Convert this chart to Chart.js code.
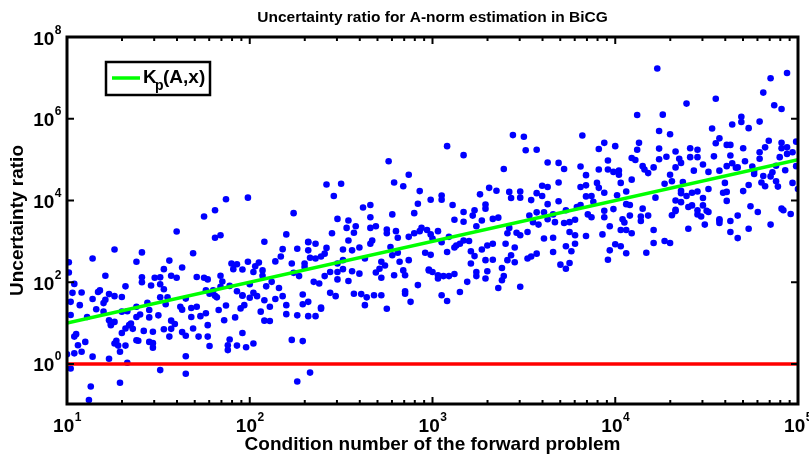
<!DOCTYPE html>
<html>
<head>
<meta charset="utf-8">
<script src="https://cdn.jsdelivr.net/npm/chart.js@4.4.0/dist/chart.umd.min.js"></script>
<style>
  html, body { margin: 0; padding: 0; background: #fff; }
  #wrap { width: 809px; height: 456px; }
</style>
</head>
<body>
<div id="wrap"><canvas id="chart" width="809" height="456"></canvas></div>
<script>
const ctx = document.getElementById('chart').getContext('2d')

//    ------- Data (as log10 of each coordinate) --------------------------------
// [log10(condition number), log10(uncertainty ratio)]
const ratioLog = [
  [1.75,3.61],[1.81,3.76],[2.24,3.69],[1.60,3.24],[1.81,3.09],[1.84,3.15],[2.08,2.99],[2.20,3.17],[2.32,2.99],
  [1.14,2.58],[1.26,2.80],[1.41,2.73],[1.38,2.50],[1.69,2.71],[1.56,2.53],[1.63,2.36],[1.53,2.32],
  [1.48,2.11],[1.51,2.12],[1.57,2.16],[1.60,2.11],[1.41,2.12],[1.41,2.00],[1.51,1.95],[1.46,1.92],[1.32,1.90],[1.21,2.16],[1.01,2.24],[1.04,1.96],
  [1.08,1.75],[1.18,1.80],[1.17,1.76],[1.23,1.71],[1.26,1.66],[1.30,1.64],[1.21,1.57],[1.20,1.49],[1.14,1.59],[1.16,1.34],[1.02,1.52],[1.02,1.20],[1.11,1.15],[1.07,1.44],[1.20,1.28],
  [1.23,1.07],[1.24,0.99],[1.26,1.03],[1.24,0.95],[1.30,1.28],[1.33,1.29],[1.38,1.40],[1.44,1.50],[1.45,1.32],[1.40,1.21],[1.38,1.15],[1.34,0.95],[1.35,0.99],[1.32,0.87],[1.30,0.76],[1.36,0.86],
  [1.45,1.14],[1.50,1.19],[1.54,1.46],[1.55,1.63],[1.51,1.63],[1.53,1.83],[1.62,1.40],[1.63,1.33],[1.68,1.37],[1.71,1.40],[1.65,1.60],[1.73,1.17],[1.76,1.24],[1.68,1.15],[1.57,1.06],[1.59,0.98],[1.57,0.86],[1.53,0.85],[1.47,0.79],[1.42,0.81],[1.38,0.58],[1.45,0.54],[1.47,0.51],[1.47,0.40],[1.56,0.67],[1.63,0.78],[1.65,0.69],[1.69,0.87],[1.72,0.67],[1.77,0.67],[1.78,0.44],[1.77,0.95],
  [1.83,1.32],[1.87,1.43],[1.86,1.07],[1.92,1.14],[1.97,1.44],[1.96,1.68],[1.95,1.36],[2.00,1.62],[2.02,1.74],[2.04,1.66],[2.08,1.56],[2.06,1.28],[2.08,1.06],[2.11,1.05],[2.11,1.40],[2.14,1.59],[2.18,1.66],[2.16,1.86],[2.09,1.90],[2.12,2.01],[2.20,1.44],[2.20,1.22],[2.26,1.19],[2.29,1.46],[2.29,1.70],[2.32,1.52],
  [2.23,0.59],[2.29,0.56],[1.89,0.60],[1.88,0.46],[1.88,0.34],[1.93,0.45],[1.96,0.76],[1.98,0.41],[2.02,0.50],
  [2.26,-0.43],[2.33,-0.21],[1.65,0.19],[1.65,-0.24],[1.51,-0.15],[1.29,-0.46],[1.13,-0.55],[1.12,-0.88],[1.02,-0.11],[1.23,0.13],[1.33,0.03],[1.14,0.18],
  [1.00,0.24],[1.04,0.26],[1.06,0.46],[1.08,0.30],[1.05,0.73],[1.04,0.67],[1.10,0.54],[1.27,0.57],[1.26,0.50],[1.28,0.45],[1.29,0.30],[1.32,0.45],[1.39,0.57],[1.03,1.74],
  [1.71,2.13],[1.75,2.11],[1.77,2.07],[1.84,2.16],[1.85,2.02],[1.84,1.89],[1.80,1.80],[1.81,1.67],[1.78,1.72],[1.82,1.63],[1.76,1.80],
  [1.90,2.46],[1.91,2.32],[1.93,2.44],[1.96,2.31],[1.99,2.50],[2.03,2.39],[2.02,2.25],[2.05,2.48],[2.07,2.29],[2.14,2.51],[2.17,2.63],[2.18,2.81],[2.23,2.46],[2.24,2.23],[2.26,2.82],[2.27,2.15],[2.30,2.37],[2.33,2.60],
  [1.89,1.91],[1.93,1.78],[1.96,1.67],[2.00,1.95],[2.07,2.16],[1.01,2.49],[1.87,4.03],[1.99,4.07],
  [2.42,4.39],[2.50,4.41],[2.46,4.11],[2.76,4.96],[2.79,4.44],[2.87,4.63],[2.84,4.35],[2.93,4.23],[2.92,3.92],[2.99,4.02],[3.05,4.12],[3.05,4.02],[3.08,5.33],[3.17,5.11],[3.11,3.89],[3.26,4.15],[3.29,3.90],[3.29,3.80],[3.39,4.77],[3.44,5.60],[3.50,5.56],[3.51,5.23],[3.57,5.24],[3.63,4.93],[3.31,4.31],[3.35,4.24],[3.42,4.21],[3.43,4.06],[3.48,4.22],[3.48,4.07],[3.54,4.01],[3.57,4.18],[3.60,4.36],[3.60,4.11],[3.63,4.33],[3.63,3.91],[2.62,3.83],[2.66,3.89],[3.61,3.71],[3.23,3.76],
  [2.48,3.55],[2.54,3.51],[2.53,3.33],[2.58,3.37],[2.57,3.21],[2.66,3.59],[2.66,3.33],[2.69,3.37],[2.78,3.66],[2.90,3.69],[2.75,3.29],[2.75,3.20],[2.80,3.25],[2.81,3.09],[2.87,3.11],[2.90,3.20],[2.94,3.33],[2.93,3.25],[2.97,3.28],[2.99,3.17],[3.03,3.25],[3.00,3.07],[3.05,2.98],[3.09,3.11],[3.12,3.53],[3.17,3.72],[3.17,3.48],[3.22,3.63],[3.24,3.37],[3.27,3.51],[3.33,3.55],[3.36,3.58],[3.42,3.33],[3.41,3.20],[3.46,3.21],[3.48,3.15],[3.52,3.23],[3.53,3.63],[3.55,3.47],[3.58,3.41],[3.57,3.71],[3.61,3.07],[3.63,3.54],
  [2.32,2.98],[2.36,2.94],[2.32,2.78],[2.30,2.46],[2.36,2.58],[2.39,2.63],[2.41,2.70],[2.42,2.84],[2.45,3.20],[2.48,2.46],[2.51,2.80],[2.51,2.54],[2.54,3.02],[2.56,2.78],[2.60,2.85],[2.63,2.58],[2.60,2.21],[2.56,2.27],[2.51,2.32],[2.48,2.25],[2.48,2.07],[2.44,2.25],[2.41,2.15],[2.54,2.03],[2.38,1.97],[2.35,2.01],[2.44,1.74],[2.47,1.66],[2.57,1.72],[2.61,1.71],[2.64,1.63],[2.63,1.44],[2.68,1.68],[2.72,1.68],[2.75,1.35],[2.66,2.94],[2.67,3.02],[2.69,2.24],[2.72,2.11],[2.71,2.33],[2.74,2.41],[2.72,2.50],[2.77,2.86],[2.78,2.66],[2.82,2.50],[2.81,2.72],[2.84,2.29],[2.79,2.17],[2.85,2.17],[2.87,2.54],[2.85,1.78],[2.85,1.72],[2.92,1.93],[2.88,1.52],
  [2.98,2.31],[2.98,2.29],[3.00,2.25],[3.03,2.17],[3.03,2.09],[3.06,2.15],[3.09,2.15],[3.12,2.20],[2.96,2.72],[2.99,2.67],[3.08,2.74],[3.12,2.85],[3.13,2.90],[3.15,2.94],[3.17,3.02],[3.20,3.01],[3.21,2.76],[3.23,2.64],[3.21,2.46],[3.27,2.80],[3.30,2.90],[3.33,2.94],[3.29,2.54],[3.33,2.55],[3.24,2.25],[3.24,2.15],[3.30,2.27],[3.29,2.09],[3.19,2.01],[3.05,1.68],[3.08,1.54],[3.15,1.76],[3.40,2.94],[3.43,2.66],[3.41,2.54],[3.45,2.49],[3.38,2.35],[3.39,2.15],[3.38,2.05],[3.36,1.86],[3.48,1.89],[3.45,2.85],[3.52,2.58],[3.54,2.63],[3.57,2.70],
  [2.32,1.17],[2.36,1.17],[2.39,1.38],[2.39,1.35],
  [4.23,7.23],[4.94,7.12],[4.85,6.99],[4.81,6.64],[4.87,6.33],[4.91,6.24],[4.55,6.49],[4.39,6.37],[4.12,6.09],[4.26,6.10],[3.82,5.59],[4.24,5.70],[4.30,5.62],[4.53,5.76],[4.64,5.86],[4.69,6.05],[4.69,5.92],[4.73,5.77],[4.79,5.93],[3.91,5.26],[3.94,5.41],[4.00,5.33],[4.13,5.41],[4.12,5.24],[4.24,5.27],[4.57,5.52],[4.55,5.40],[4.61,5.36],[4.63,5.36],[4.70,5.28],[4.84,5.46],[4.82,5.30],[4.91,5.41],[4.91,5.28],[4.94,5.30],[4.99,5.44],
  [3.69,4.92],[3.72,4.77],[3.81,4.83],[3.84,4.62],[3.81,4.33],[3.84,4.37],[3.69,4.44],[3.69,3.98],[3.91,4.76],[3.90,4.43],[3.91,4.31],[3.94,4.19],[3.96,4.98],[3.96,4.76],[3.99,4.70],[4.02,4.73],[4.02,4.63],[4.03,4.43],[4.09,5.04],[4.11,4.99],[4.09,4.51],[4.15,4.84],[4.16,4.76],[4.18,4.67],[4.21,4.81],[4.06,4.22],[4.01,4.13],[3.84,4.10],[3.87,4.11],[3.88,3.97],[3.81,3.89],[3.79,3.84],[3.99,3.79],[3.94,3.75],[4.08,3.89],[4.06,3.91],[4.15,3.80],
  [4.22,4.07],[4.27,4.41],[4.30,4.63],[4.31,4.47],[4.28,5.07],[4.33,5.20],[4.24,5.01],[4.35,5.02],[4.36,4.92],[4.33,4.81],[4.37,4.45],[4.36,4.24],[4.36,4.18],[4.39,4.11],[4.33,4.00],[4.36,3.96],[4.33,3.77],[4.40,3.84],[4.41,5.28],[4.45,5.24],[4.41,5.06],[4.45,5.06],[4.43,4.73],[4.48,4.88],[4.51,4.70],[4.42,4.19],[4.45,4.22],[4.48,4.06],[4.51,4.28],[4.54,5.08],[4.57,4.73],[4.60,4.43],[4.61,4.84],[4.59,4.19],[4.61,4.21],[4.61,3.99],[4.42,3.88],[4.45,3.76],[4.48,3.88],[4.50,3.75],
  [4.63,5.10],[4.64,4.91],[4.67,4.81],[4.66,4.80],[4.71,4.96],[4.75,4.83],[4.76,4.72],[4.76,4.65],[4.70,4.23],[4.73,4.38],[4.79,5.18],[4.79,5.02],[4.81,4.60],[4.80,4.44],[4.82,4.35],[4.85,4.59],[4.86,4.69],[4.88,4.85],[4.88,4.47],[4.89,4.34],[4.90,5.06],[4.94,5.14],[4.93,4.74],[4.97,5.18],[4.97,4.43],[4.99,4.84],[5.00,4.28],[4.74,3.86],[4.57,3.54],[4.91,3.80],[4.04,3.54],[3.73,3.76],
  [3.66,3.66],[3.66,3.09],[3.66,2.74],[3.67,3.47],[3.72,3.45],[3.75,3.47],[3.78,3.53],[3.75,3.23],[3.78,3.15],[3.78,2.94],[3.73,2.88],[3.76,2.76],[3.70,2.43],[3.73,2.33],[3.75,2.47],[3.84,3.13],[3.85,3.66],[3.87,3.59],[3.93,3.17],[3.94,3.59],[3.97,3.37],[3.97,2.78],[3.96,2.55],[4.00,2.93],[4.03,2.88],[4.06,2.71],[4.03,3.28],[4.05,3.46],[4.06,3.28],[4.09,3.20],[4.08,3.63],[4.14,3.61],[4.14,3.50],[4.18,3.63],[4.21,3.28],[4.21,2.96],[4.17,2.72],[4.27,3.01],[4.30,2.96],[4.31,3.64],[4.33,3.74],[4.40,3.31],[4.45,3.66],[4.47,3.61],[4.49,3.41],[4.51,3.72],[4.57,3.51],[4.57,3.45],[4.63,3.50],[4.63,3.23],[4.67,3.63],[4.67,3.08],[4.73,3.31],[4.78,3.72],[4.85,3.41],[4.92,3.76],[4.96,3.67]
]

// K_p(A,x) reference line and the unit line
const kpCond = [10, 1e5]
const kpValue = [10, 1e5]
const unitCond = [10, 1e5]
const unitValue = [1, 1]

// axes: tick values and the exponent shown on each "10^n" label
const xTicks = [10, 1e2, 1e3, 1e4, 1e5]
const xTickExp = ['1', '2', '3', '4', '5']
const yTicks = [1, 1e2, 1e4, 1e6, 1e8]
const yTickExp = ['0', '2', '4', '6', '8']

const titleText = 'Uncertainty ratio for A-norm estimation in BiCG'
const xTitle = 'Condition number of the forward problem'
const yTitle = 'Uncertainty ratio'

const FONT = "'Liberation Sans', Arial, Helvetica, sans-serif"
const bold = size => ({ family: FONT, size, weight: 'bold', lineHeight: 1.2 })

const scatterData = ratioLog.map(p => ({ x: 10 ** p[0], y: 10 ** p[1] }))
const kpData = kpCond.map((x, i) => ({ x, y: kpValue[i] }))
const unitData = unitCond.map((x, i) => ({ x, y: unitValue[i] }))


// "10" with a raised exponent, like MATLAB's log tick labels
function drawPow(ctx, exp, x, baseY, align) {
  ctx.font = `bold 19px ${FONT}`
  const wb = ctx.measureText('10').width
  ctx.font = `bold 12px ${FONT}`
  const we = ctx.measureText(exp).width
  const x0 = align === 'center' ? x - (wb + we) / 2 : x - (wb + we)
  ctx.font = `bold 19px ${FONT}`
  ctx.fillText('10', x0, baseY)
  ctx.font = `bold 12px ${FONT}`
  ctx.fillText(exp, x0 + wb + 0.5, baseY - 11)
}

//    ------- Frame, inward ticks, tick labels and legend ----------
const matlabFrame = {
  id: 'matlabFrame',
  afterDatasetsDraw(chart) {
    const { ctx, chartArea: a, scales: { x, y } } = chart
    const seg = (x1, y1, x2, y2) => { ctx.beginPath(); ctx.moveTo(x1, y1); ctx.lineTo(x2, y2); ctx.stroke() }
    ctx.save()
    ctx.strokeStyle = '#000'
    ctx.lineWidth = 2
    for (let d = 1; d <= 5; d++) {
      for (let m = 1; m <= 9; m++) {
        const v = m * 10 ** d
        if (v > 1e5) break
        const px = x.getPixelForValue(v)
        const len = m === 1 ? 7 : 4
        seg(px, a.bottom, px, a.bottom - len)
        seg(px, a.top, px, a.top + len)
      }
    }
    yTicks.forEach(v => {
      const py = y.getPixelForValue(v)
      seg(a.left, py, a.left + 7, py)
      seg(a.right, py, a.right - 7, py)
    })
    ctx.lineWidth = 3
    ctx.strokeRect(a.left, a.top, a.right - a.left, a.bottom - a.top)

    // tick labels
    ctx.fillStyle = '#000'
    ctx.textBaseline = 'alphabetic'
    ctx.textAlign = 'left'
    xTicks.forEach((v, i) => drawPow(ctx, xTickExp[i], x.getPixelForValue(v), a.bottom + 28, 'center'))
    yTicks.forEach((v, i) => drawPow(ctx, yTickExp[i], a.left - 6, y.getPixelForValue(v) + 7.5, 'right'))

    // legend box
    const lx = a.left + 39, ly = a.top + 25
    ctx.fillStyle = '#fff'
    ctx.fillRect(lx, ly, 104, 33)
    ctx.lineWidth = 2.5
    ctx.strokeRect(lx, ly, 104, 33)
    ctx.strokeStyle = '#00ff00'
    ctx.lineWidth = 3.5
    seg(lx + 6, ly + 16, lx + 34, ly + 16)
    ctx.fillStyle = '#000'
    ctx.font = `bold 19px ${FONT}`
    ctx.fillText('K', lx + 37, ly + 21)
    ctx.fillText('(A,x)', lx + 57, ly + 21)
    ctx.font = `bold 14px ${FONT}`
    ctx.fillText('p', lx + 49, ly + 28)
    ctx.restore()
  }
}


//    ------- CHART ----------
const chart = new Chart(ctx, {
  type: 'scatter',
  data: {
    datasets: [{
      label: 'K_p(A,x)',
      type: 'line',
      data: kpData,
      borderColor: '#00ff00',
      borderWidth: 3.5,
      pointRadius: 0,
      fill: false,
      clip: 0,
      order: 1
    }, {
      label: 'unit',
      type: 'line',
      data: unitData,
      borderColor: '#ff0000',
      borderWidth: 3.5,
      pointRadius: 0,
      fill: false,
      clip: 0,
      order: 2
    }, {
      label: 'ratio',
      data: scatterData,
      backgroundColor: '#0000ff',
      borderColor: '#0000ff',
      borderWidth: 0,
      pointRadius: 3.3,
      clip: 0,
      order: 3
    }]
  },
  options: {
    responsive: false,
    animation: false,
    devicePixelRatio: 1,
    layout: { padding: { left: 0, right: 11, top: 0, bottom: 0 } },
    plugins: {
      legend: { display: false },
      tooltip: { enabled: false },
      title: {
        display: true,
        fullSize: false,
        text: titleText,
        color: '#000',
        font: bold(15.5),
        padding: { top: 8.3, bottom: 10.1 }
      }
    },
    scales: {
      x: {
        type: 'logarithmic',
        position: 'bottom',
        min: 10,
        max: 1e5,
        grid: { display: false, drawTicks: false },
        border: { display: false },
        afterBuildTicks: s => { s.ticks = xTicks.map(v => ({ value: v })) },
        afterFit: s => { s.height = 52; s.paddingLeft = 0; s.paddingRight = 0 },
        ticks: { display: false },
        title: { display: true, text: xTitle, color: '#000', font: bold(19), padding: { top: 0, bottom: 0 } }
      },
      y: {
        type: 'logarithmic',
        position: 'left',
        min: 0.105,
        max: 1e8,
        grid: { display: false, drawTicks: false },
        border: { display: false },
        afterBuildTicks: s => { s.ticks = yTicks.map(v => ({ value: v })) },
        afterFit: s => { s.width = 67; s.paddingTop = 0; s.paddingBottom = 0 },
        ticks: { display: false },
        title: { display: true, text: yTitle, color: '#000', font: bold(19), padding: { top: 6.5, bottom: 0 } }
      }
    }
  },
  plugins: [matlabFrame]
})
</script>
</body>
</html>
